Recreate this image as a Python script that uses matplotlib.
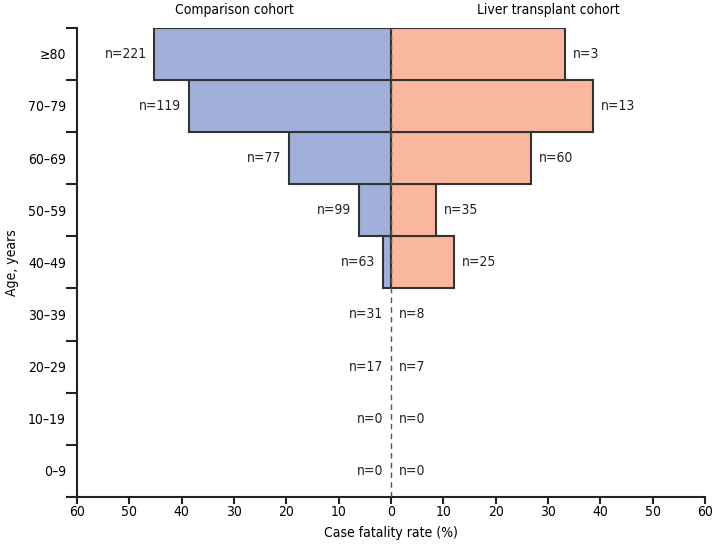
import matplotlib.pyplot as plt
import numpy as np

plt.rcParams['font.family'] = ['DejaVu Sans']
plt.rcParams['font.stretch'] = 'condensed'

ages = ['0–9', '10–19', '20–29', '30–39', '40–49', '50–59', '60–69', '70–79', '≥80']
comparison_cfr = [0, 0, 0, 0, 1.6, 6.1, 19.5, 38.7, 45.2]
transplant_cfr = [0, 0, 0, 0, 12.0, 8.6, 26.7, 38.5, 33.3]
comparison_n = [0, 0, 17, 31, 63, 99, 77, 119, 221]
transplant_n = [0, 0, 7, 8, 25, 35, 60, 13, 3]

blue = '#a0b0d8'
salmon = '#f9b89d'
fs = 10

fig = plt.figure(figsize=(7.13, 5.47), dpi=100)
ax = fig.add_axes([0.108, 0.0914, 0.881, 0.858])

y = np.arange(len(ages))
for i in y:
    if comparison_cfr[i] > 0:
        ax.barh(i, -comparison_cfr[i], height=1, color=blue, edgecolor='#333333', linewidth=1.5, zorder=2)
    if transplant_cfr[i] > 0:
        ax.barh(i, transplant_cfr[i], height=1, color=salmon, edgecolor='#333333', linewidth=1.5, zorder=2)
    ax.text(-comparison_cfr[i] - 1.5, i, 'n=%d' % comparison_n[i], ha='right', va='center', fontsize=fs, color='#222222')
    ax.text(transplant_cfr[i] + 1.5, i, 'n=%d' % transplant_n[i], ha='left', va='center', fontsize=fs, color='#222222')

# dashed centre line
ax.axvline(0, color='#3f5a72', linestyle=(0, (4, 3)), linewidth=1, zorder=3)

ax.set_xlim(-60, 60)
ax.set_ylim(-0.5, 8.5)
ax.set_xticks(np.arange(-60, 61, 10))
ax.set_xticklabels([str(abs(v)) for v in range(-60, 61, 10)], fontsize=fs)
ax.set_yticks(y)
ax.set_yticklabels(ages, fontsize=fs)
ax.set_yticks(np.arange(-0.5, 8.6, 1), minor=True)
ax.tick_params(axis='y', which='major', length=0, pad=8)
ax.tick_params(axis='y', which='minor', length=8, width=1.5, color='#222222')
ax.tick_params(axis='x', length=5, width=1.5, color='#222222', pad=1)

for s in ['top', 'right']:
    ax.spines[s].set_visible(False)
for s in ['left', 'bottom']:
    ax.spines[s].set_linewidth(1.5)
    ax.spines[s].set_color('#222222')

ax.text(-30, 8.84, 'Comparison cohort', ha='center', va='center', fontsize=fs)
ax.text(30, 8.84, 'Liver transplant cohort', ha='center', va='center', fontsize=fs)
ax.set_xlabel('Case fatality rate (%)', fontsize=fs, labelpad=5)
ax.set_ylabel('Age, years', fontsize=fs, labelpad=6)

fig.savefig('out.png', dpi=100)
